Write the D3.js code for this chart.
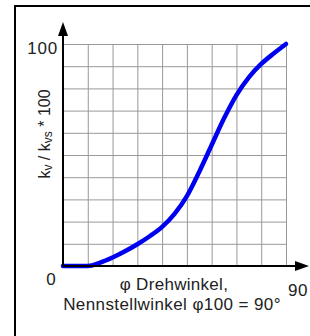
<!DOCTYPE html>
<html>
<head>
<meta charset="UTF-8">
<script src="https://d3js.org/d3.v7.min.js"></script>
<style>
  body { margin: 0; background: #fff; }
  svg { display: block; font-family: "Liberation Sans", Arial, sans-serif; }
</style>
</head>
<body>
<svg id="chart" width="310" height="336"></svg>
<script>
  // curve: angle in degrees, kv/kvs in percent
  const angle = [0, 5, 10, 15, 20, 25, 30, 35, 40, 45, 50, 55, 60, 65, 70, 75, 80, 85, 90];
  const kv    = [0, 0, 0, 1.5, 3.8, 6.6, 9.8, 13.4, 17.6, 23.5, 31.5, 42.5, 54.5, 66.5, 77, 85, 91, 95.7, 100];
  const xGridTicks = d3.range(0, 91, 10);
  const yGridTicks = d3.range(0, 101, 10);

  const svg = d3.select('#chart');
  const margin = { left: 63, top: 44, right: 24, bottom: 70 };
  const w = 310 - margin.left - margin.right;   // 223
  const h = 336 - margin.top - margin.bottom;   // 222

  const x = d3.scaleLinear().domain([0, 90]).range([margin.left, margin.left + w]);
  const y = d3.scaleLinear().domain([0, 100]).range([margin.top + h, margin.top]);

  // outer frame
  svg.append('path')
    .attr('d', 'M15,337 L15,6 L311,6')
    .attr('fill', 'none')
    .attr('stroke', '#000')
    .attr('stroke-width', 2);

  // grid
  const grid = svg.append('g').attr('stroke', '#999').attr('stroke-width', 1);
  grid.selectAll('line.v').data(xGridTicks).join('line')
    .attr('x1', d => x(d) + 0.5).attr('x2', d => x(d) + 0.5)
    .attr('y1', y(0)).attr('y2', y(100));
  grid.selectAll('line.h').data(yGridTicks).join('line')
    .attr('x1', x(0)).attr('x2', x(90))
    .attr('y1', d => y(d) + 0.5).attr('y2', d => y(d) + 0.5);

  // curve
  const line = d3.line()
    .x((d, i) => x(angle[i]))
    .y(d => y(d))
    .curve(d3.curveMonotoneX);
  svg.append('path')
    .datum(kv)
    .attr('d', line)
    .attr('fill', 'none')
    .attr('stroke', '#0000f0')
    .attr('stroke-width', 4.5)
    .attr('stroke-linecap', 'round');

  // axes with arrows
  const ax = svg.append('g');
  ax.append('line')
    .attr('x1', x(0)).attr('x2', 300)
    .attr('y1', y(0)).attr('y2', y(0))
    .attr('stroke', '#000').attr('stroke-width', 2);
  ax.append('line')
    .attr('x1', x(0)).attr('x2', x(0))
    .attr('y1', y(0)).attr('y2', 32)
    .attr('stroke', '#000').attr('stroke-width', 2);
  ax.append('path')
    .attr('d', `M309,${y(0)} L295,${y(0) - 5} L295,${y(0) + 5} Z`)
    .attr('fill', '#000');
  ax.append('path')
    .attr('d', `M${x(0)},22 L${x(0) - 5},36 L${x(0) + 5},36 Z`)
    .attr('fill', '#000');

  // labels
  svg.append('text').attr('x', 58).attr('y', 54).attr('text-anchor', 'end')
    .attr('font-size', 17).attr('letter-spacing', 0.8).attr('fill', '#222').text('100');
  svg.append('text').attr('x', 51).attr('y', 285).attr('text-anchor', 'middle')
    .attr('font-size', 17).attr('fill', '#222').text('0');
  svg.append('text').attr('x', 288).attr('y', 296)
    .attr('font-size', 17).attr('letter-spacing', 0.5).attr('fill', '#222').text('90');

  svg.append('text').attr('x', 174).attr('y', 290).attr('text-anchor', 'middle')
    .attr('font-size', 17).attr('letter-spacing', 0.3).attr('fill', '#222').text('\u03c6 Drehwinkel,');
  svg.append('text').attr('x', 172).attr('y', 310).attr('text-anchor', 'middle')
    .attr('font-size', 17).attr('letter-spacing', 0.4).attr('fill', '#222').text('Nennstellwinkel \u03c6100 = 90\u00b0');

  const yl = svg.append('text')
    .attr('transform', 'translate(50,134) rotate(-90)')
    .attr('text-anchor', 'middle')
    .attr('font-size', 16).attr('fill', '#222');
  yl.append('tspan').text('k');
  yl.append('tspan').attr('font-size', 12).attr('dy', 2).text('v');
  yl.append('tspan').attr('dy', -2).text(' / k');
  yl.append('tspan').attr('font-size', 12).attr('dy', 2).text('vs');
  yl.append('tspan').attr('dy', -2).text(' * 100');
</script>
</body>
</html>
